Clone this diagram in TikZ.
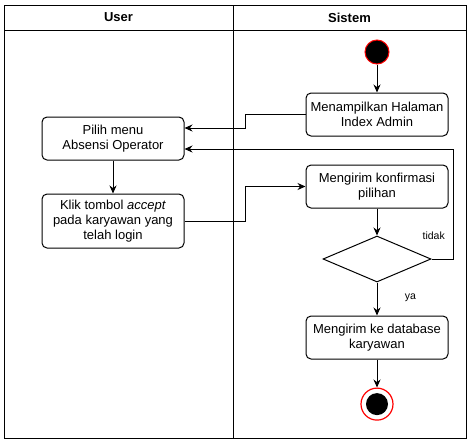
\documentclass[tikz,border=0pt]{standalone}
\usepackage{fontspec}
\setmainfont{Liberation Sans}
\usetikzlibrary{shapes.geometric, arrows.meta, positioning}
\tikzstyle{action} = [rectangle, rounded corners=5pt, minimum width=142pt, minimum height=43pt, text centered, align=center, draw=black, line width=1pt, font=\fontsize{13}{15}\selectfont]
\tikzstyle{decision} = [diamond, minimum width=108pt, minimum height=46pt, inner sep=0pt, draw=black, line width=1pt]
\tikzstyle{initial} = [circle, minimum size=24pt, inner sep=0pt, fill=black, draw=red, line width=1pt]
\tikzstyle{finalring} = [circle, minimum size=32pt, inner sep=0pt, fill=white, draw=red, line width=1.2pt]
\tikzstyle{finaldot} = [circle, minimum size=22pt, inner sep=0pt, fill=black]
\tikzstyle{lane} = [line width=1pt, draw=black]
\tikzstyle{head} = [font=\bfseries\fontsize{13}{15}\selectfont]
\tikzstyle{guard} = [font=\fontsize{10.5}{12}\selectfont]
\tikzstyle{arrow} = [line width=1pt, -{Stealth[length=8pt, width=7pt]}]

\begin{document}
\begin{tikzpicture}[x=1pt, y=-1pt, node distance=28pt]

    \useasboundingbox (0,0) rectangle (471,445);

    % swimlanes
    \draw [lane] (4,5) rectangle (466,438);
    \draw [lane] (4,30) -- (466,30);
    \draw [lane] (233,5) -- (233,438);
    \node (user) [head] at (118.5,17.5) {User};
    \node (sistem) [head] at (349.5,17.5) {Sistem};

    \node (start) [initial] at (377,52) {};
    \node (halaman) [action, below=of start] {Menampilkan Halaman\\Index Admin};
    \node (konfirmasi) [action, below=of halaman] {Mengirim konfirmasi\\pilihan};
    \node (cek) [decision, below=27pt of konfirmasi] {};
    \node (database) [action, below=33pt of cek] {Mengirim ke database\\karyawan};
    \node (stopring) [finalring, below=of database] {};
    \node (stopdot) [finaldot] at (stopring) {};

    \node (pilih) [action] at (113,138.5) {Pilih menu\\Absensi Operator};
    \node (klik) [action, minimum height=54pt, below=33pt of pilih] {Klik tombol \textit{accept}\\pada karyawan yang\\telah login};

    \draw [arrow] (start) -- (halaman);
    \draw [arrow] (halaman.west) -- ++(-60pt,0pt) |- ([yshift=10.5pt]pilih.east);
    \draw [arrow] (pilih) -- (klik);
    \draw [arrow] (klik.east) -- ++(61pt,0pt) |- (konfirmasi.west);
    \draw [arrow] (konfirmasi) -- (cek);
    \draw [arrow] (cek.east) -- node[guard, pos=0.1, above=16pt] {tidak} ++(22pt,0pt) |- ([yshift=-10.5pt]pilih.east);
    \draw [arrow] (cek) -- node[guard, pos=0.45, right=24pt] {ya} (database);
    \draw [arrow] (database) -- (stopring);

\end{tikzpicture}
\end{document}
